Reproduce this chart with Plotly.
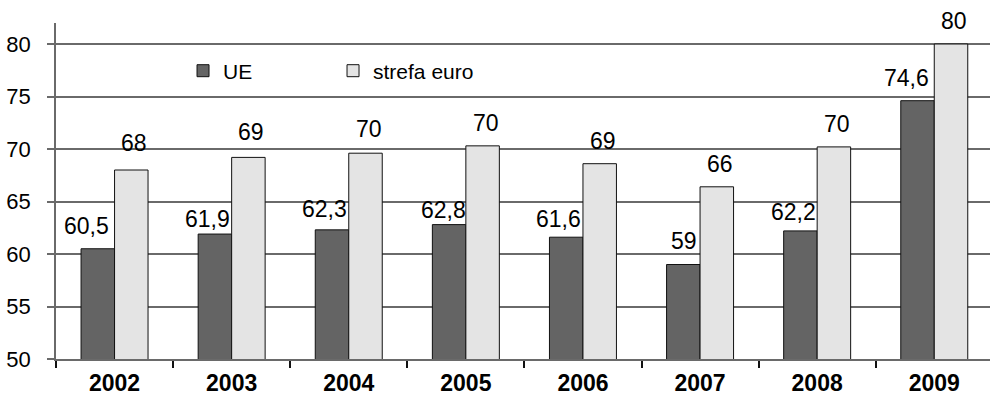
import plotly.graph_objects as go

# Data
years = ["2002", "2003", "2004", "2005", "2006", "2007", "2008", "2009"]
ue = [60.5, 61.9, 62.3, 62.8, 61.6, 59.0, 62.2, 74.6]
euro = [68.0, 69.2, 69.6, 70.3, 68.6, 66.4, 70.2, 80.0]
series_names = ["UE", "strefa euro"]

# Styling
FONT = "Liberation Sans, Arial, sans-serif"
UE_FILL = "#646464"
EURO_FILL = "#e4e4e4"
OUTLINE = "#111111"
GRID = "#6a6a6a"
BARGAP = 0.428
BAR_W = (1 - BARGAP) / 2

# hand-placed label nudges (px)
ue_dx = [-11, -7, -8, -6, -8, 1, -7, -11]
ue_dy = [0, -8, -2, -8, -5, 1, -4, 0]
euro_dx = [3, 3, 3, 3, 3, 3, 3, 3]
euro_dy = [4, 2, 1, 0, 0, 0, 0, 0]


def fmt_pl(v):
    s = f"{v:.1f}".rstrip("0").rstrip(".")
    return s.replace(".", ",")


fig = go.Figure()
fig.add_trace(go.Bar(
    x=years, y=ue, name=series_names[0],
    marker=dict(color=UE_FILL, line=dict(color=OUTLINE, width=1)),
    hoverinfo="skip",
))
fig.add_trace(go.Bar(
    x=years, y=euro, name=series_names[1],
    marker=dict(color=EURO_FILL, line=dict(color=OUTLINE, width=1)),
    hoverinfo="skip",
))

annotations = []
for i, (a, b) in enumerate(zip(ue, euro)):
    annotations.append(dict(
        x=i - BAR_W / 2, y=a, xref="x", yref="y", text=fmt_pl(a),
        showarrow=False, yanchor="bottom", xanchor="center",
        xshift=ue_dx[i], yshift=8 + ue_dy[i],
        font=dict(family=FONT, size=23, color="#000"),
    ))
    annotations.append(dict(
        x=i + BAR_W / 2, y=b, xref="x", yref="y", text=f"{round(b)}",
        showarrow=False, yanchor="bottom", xanchor="center",
        xshift=euro_dx[i], yshift=8 + euro_dy[i],
        font=dict(family=FONT, size=23, color="#000"),
    ))

fig.update_layout(
    width=990, height=398,
    margin=dict(l=56, r=0, t=23, b=39, pad=0),
    paper_bgcolor="white", plot_bgcolor="white",
    barmode="group", bargap=BARGAP, bargroupgap=0,
    font=dict(family=FONT, color="#000"),
    showlegend=True,
    legend=dict(
        orientation="h", x=0.136, y=0.857, xanchor="left", yanchor="middle",
        xref="paper", yref="paper",
        font=dict(family=FONT, size=21, color="#000"),
        entrywidth=105, entrywidthmode="pixels",
        bgcolor="rgba(0,0,0,0)", traceorder="normal", itemclick=False,
    ),
    annotations=annotations,
)

fig.update_xaxes(
    type="category", range=[-0.5, 7.476],
    showline=True, linecolor=GRID, linewidth=1.5,
    ticks="outside", tickson="boundaries", ticklen=7, tickcolor="#111", tickwidth=1.5,
    tickfont=dict(family=FONT, size=23, color="#000", weight="bold"),
    ticklabelstandoff=3,
    showgrid=False, automargin=False, fixedrange=True,
)
fig.update_yaxes(
    range=[50, 82], tick0=50, dtick=5,
    showline=True, linecolor=GRID, linewidth=1.5,
    ticks="outside", ticklen=7, tickcolor=GRID, tickwidth=1.5,
    tickfont=dict(family=FONT, size=22, color="#000"),
    ticklabelstandoff=12,
    showgrid=True, gridcolor=GRID, gridwidth=1.5,
    zeroline=False, automargin=False, fixedrange=True,
)

fig.write_html("out.html", config={"displayModeBar": False})
